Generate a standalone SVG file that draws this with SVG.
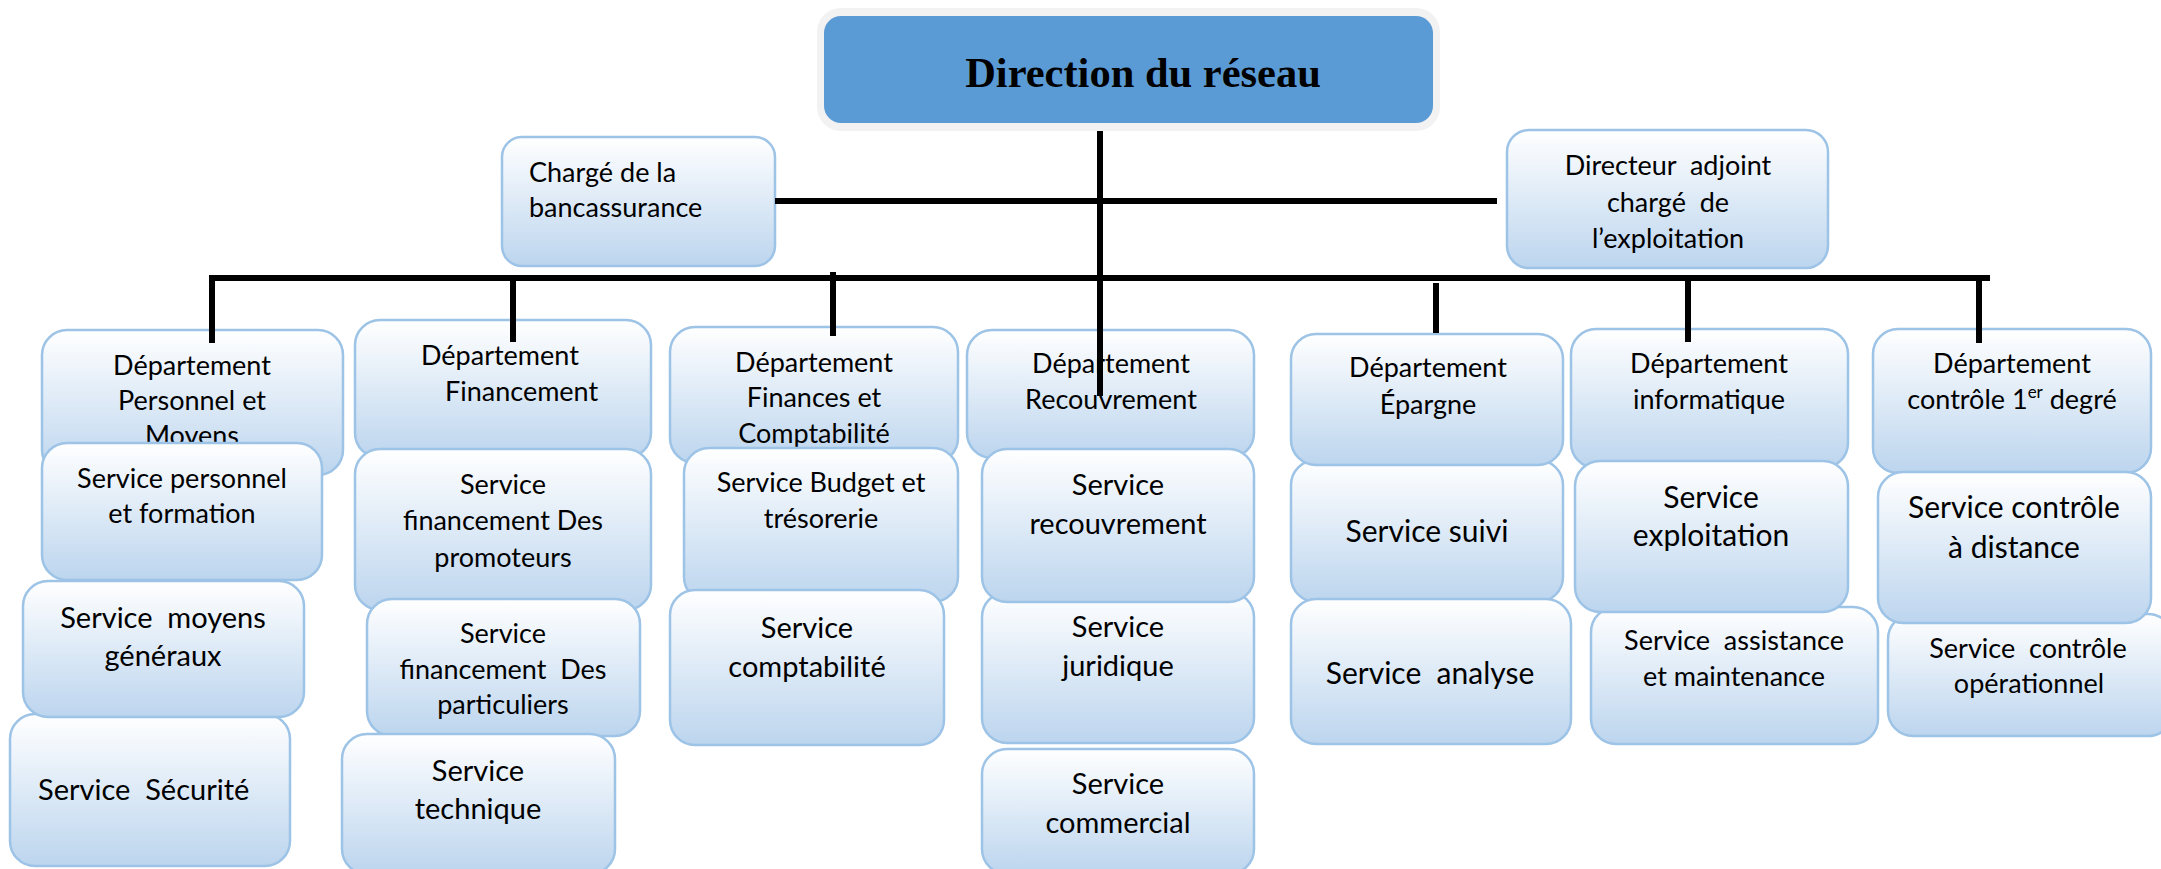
<svg xmlns="http://www.w3.org/2000/svg" width="2161" height="869" viewBox="0 0 2161 869">
<defs>
<linearGradient id="g" x1="0" y1="0" x2="0" y2="1">
<stop offset="0" stop-color="#ffffff"/>
<stop offset="1" stop-color="#bcd5ee"/>
</linearGradient>
<style>
.b{fill:url(#g);stroke:#9dc3e6;stroke-width:2.5}
.t{font-family:Lato,"Liberation Sans",sans-serif;font-size:27px;fill:#000}
.l{font-size:30px}
.m{font-size:29px}
.c{text-anchor:middle}
.k{stroke:#000;stroke-width:6;fill:none}
</style>
</defs>
<rect width="2161" height="869" fill="#ffffff"/>

<g id="direction">
<rect x="817" y="8" width="623" height="123" rx="24" fill="#f2f2f2"/>
<rect x="824" y="16" width="609" height="107" rx="17" fill="#5b9bd5"/>
<text x="1143" y="87" text-anchor="middle" font-family="'Liberation Serif',serif" font-weight="bold" font-size="42.5" fill="#000">Direction du réseau</text>
</g>

<g id="charge-bancassurance">
<rect class="b" x="502" y="137" width="273" height="129" rx="20"/>
<text class="t" x="529" y="182">Chargé de la</text>
<text class="t" x="529" y="217">bancassurance</text>
</g>

<g id="directeur-adjoint">
<rect class="b" x="1507" y="130" width="321" height="138" rx="22"/>
<text class="t c" xml:space="preserve" x="1668" y="175">Directeur  adjoint</text>
<text class="t c" xml:space="preserve" x="1668" y="212">chargé  de</text>
<text class="t c" x="1668" y="248">l’exploitation</text>
</g>

<!-- Département Personnel et Moyens -->
<g id="dep-personnel">
<rect class="b" x="42" y="330" width="301" height="145" rx="25"/>
<text class="t c" x="192" y="375">Département</text>
<text class="t c" x="192" y="410">Personnel et</text>
<text class="t c" x="192" y="445">Moyens</text>
</g>
<g id="svc-personnel">
<rect class="b" x="42" y="443" width="280" height="137" rx="25"/>
<text class="t c" x="182" y="488">Service personnel</text>
<text class="t c" x="182" y="523">et formation</text>
</g>
<g id="svc-securite">
<rect class="b" x="10" y="714" width="280" height="152" rx="25"/>
<text class="t m" xml:space="preserve" x="38" y="800">Service  Sécurité</text>
</g>
<g id="svc-moyens">
<rect class="b" x="23" y="581" width="281" height="136" rx="25"/>
<text class="t m c" xml:space="preserve" x="163" y="628">Service  moyens</text>
<text class="t m c" x="163" y="666">généraux</text>
</g>

<!-- Département Financement -->
<g id="dep-financement">
<rect class="b" x="355" y="320" width="296" height="138" rx="25"/>
<text class="t" x="421" y="365">Département</text>
<text class="t" x="445" y="401">Financement</text>
</g>
<g id="svc-promoteurs">
<rect class="b" x="355" y="449" width="296" height="161" rx="25"/>
<text class="t c" x="503" y="494">Service</text>
<text class="t c" x="503" y="530">financement Des</text>
<text class="t c" x="503" y="567">promoteurs</text>
</g>
<g id="svc-particuliers">
<rect class="b" x="367" y="599" width="273" height="137" rx="25"/>
<text class="t c" x="503" y="643">Service</text>
<text class="t c" xml:space="preserve" x="503" y="679">financement  Des</text>
<text class="t c" x="503" y="714">particuliers</text>
</g>
<g id="svc-technique">
<rect class="b" x="342" y="734" width="273" height="140" rx="25"/>
<text class="t m c" x="478" y="781">Service</text>
<text class="t m c" x="478" y="819">technique</text>
</g>

<!-- Département Finances et Comptabilité -->
<g id="dep-finances">
<rect class="b" x="670" y="327" width="288" height="136" rx="25"/>
<text class="t c" x="814" y="372">Département</text>
<text class="t c" x="814" y="407">Finances et</text>
<text class="t c" x="814" y="443">Comptabilité</text>
</g>
<g id="svc-budget">
<rect class="b" x="684" y="448" width="274" height="154" rx="25"/>
<text class="t c" x="821" y="492">Service Budget et</text>
<text class="t c" x="821" y="528">trésorerie</text>
</g>
<g id="svc-comptabilite">
<rect class="b" x="670" y="590" width="274" height="155" rx="25"/>
<text class="t m c" x="807" y="638">Service</text>
<text class="t m c" x="807" y="677">comptabilité</text>
</g>

<!-- Département Recouvrement -->
<g id="dep-recouvrement">
<rect class="b" x="967" y="330" width="287" height="128" rx="25"/>
<text class="t c" x="1111" y="373">Département</text>
<text class="t c" x="1111" y="409">Recouvrement</text>
</g>
<g id="svc-juridique">
<rect class="b" x="982" y="592" width="272" height="151" rx="25"/>
<text class="t m c" x="1118" y="637">Service</text>
<text class="t m c" x="1118" y="676">juridique</text>
</g>
<g id="svc-recouvrement">
<rect class="b" x="982" y="449" width="272" height="153" rx="25"/>
<text class="t m c" x="1118" y="495">Service</text>
<text class="t m c" x="1118" y="534">recouvrement</text>
</g>
<g id="svc-commercial">
<rect class="b" x="982" y="749" width="272" height="125" rx="25"/>
<text class="t m c" x="1118" y="794">Service</text>
<text class="t m c" x="1118" y="833">commercial</text>
</g>

<!-- Département Épargne -->
<g id="svc-suivi">
<rect class="b" x="1291" y="460" width="272" height="142" rx="25"/>
<text class="t l c" x="1427" y="542">Service suivi</text>
</g>
<g id="dep-epargne">
<rect class="b" x="1291" y="334" width="272" height="131" rx="25"/>
<text class="t c" x="1428" y="377">Département</text>
<text class="t c" x="1428" y="414">Épargne</text>
</g>
<g id="svc-analyse">
<rect class="b" x="1291" y="599" width="280" height="145" rx="25"/>
<text class="t l c" xml:space="preserve" x="1430" y="684">Service  analyse</text>
</g>

<!-- Département informatique -->
<g id="dep-informatique">
<rect class="b" x="1571" y="329" width="277" height="139" rx="25"/>
<text class="t c" x="1709" y="373">Département</text>
<text class="t c" x="1709" y="409">informatique</text>
</g>
<g id="svc-assistance">
<rect class="b" x="1591" y="607" width="287" height="137" rx="25"/>
<text class="t c" xml:space="preserve" x="1734" y="650">Service  assistance</text>
<text class="t c" x="1734" y="686">et maintenance</text>
</g>
<g id="svc-exploitation">
<rect class="b" x="1575" y="461" width="273" height="151" rx="25"/>
<text class="t l c" x="1711" y="508">Service</text>
<text class="t l c" x="1711" y="546">exploitation</text>
</g>

<!-- Département contrôle 1er degré -->
<g id="dep-controle">
<rect class="b" x="1873" y="329" width="278" height="144" rx="25"/>
<text class="t c" x="2012" y="373">Département</text>
<text class="t c" x="2012" y="409">contrôle 1<tspan font-size="17" dy="-11">er</tspan><tspan dy="11"> degré</tspan></text>
</g>
<g id="svc-operationnel">
<rect class="b" x="1888" y="614" width="285" height="122" rx="25"/>
<text class="t c" xml:space="preserve" x="2028" y="658">Service  contrôle</text>
<text class="t c" x="2029" y="693">opérationnel</text>
</g>
<g id="svc-distance">
<rect class="b" x="1878" y="472" width="273" height="151" rx="25"/>
<text class="t l c" x="2014" y="518">Service contrôle</text>
<text class="t l c" x="2014" y="558">à distance</text>
</g>

<g id="connectors">
<line class="k" x1="1100" y1="131" x2="1100" y2="396"/>
<line class="k" x1="775" y1="201" x2="1497" y2="201"/>
<polyline class="k" points="212,343 212,278 1990,278"/>
<line class="k" x1="513" y1="278" x2="513" y2="342"/>
<line class="k" x1="833" y1="272" x2="833" y2="336"/>
<line class="k" x1="1436" y1="283" x2="1436" y2="333"/>
<line class="k" x1="1688" y1="278" x2="1688" y2="342"/>
<line class="k" x1="1979" y1="278" x2="1979" y2="343"/>
</g>
</svg>
